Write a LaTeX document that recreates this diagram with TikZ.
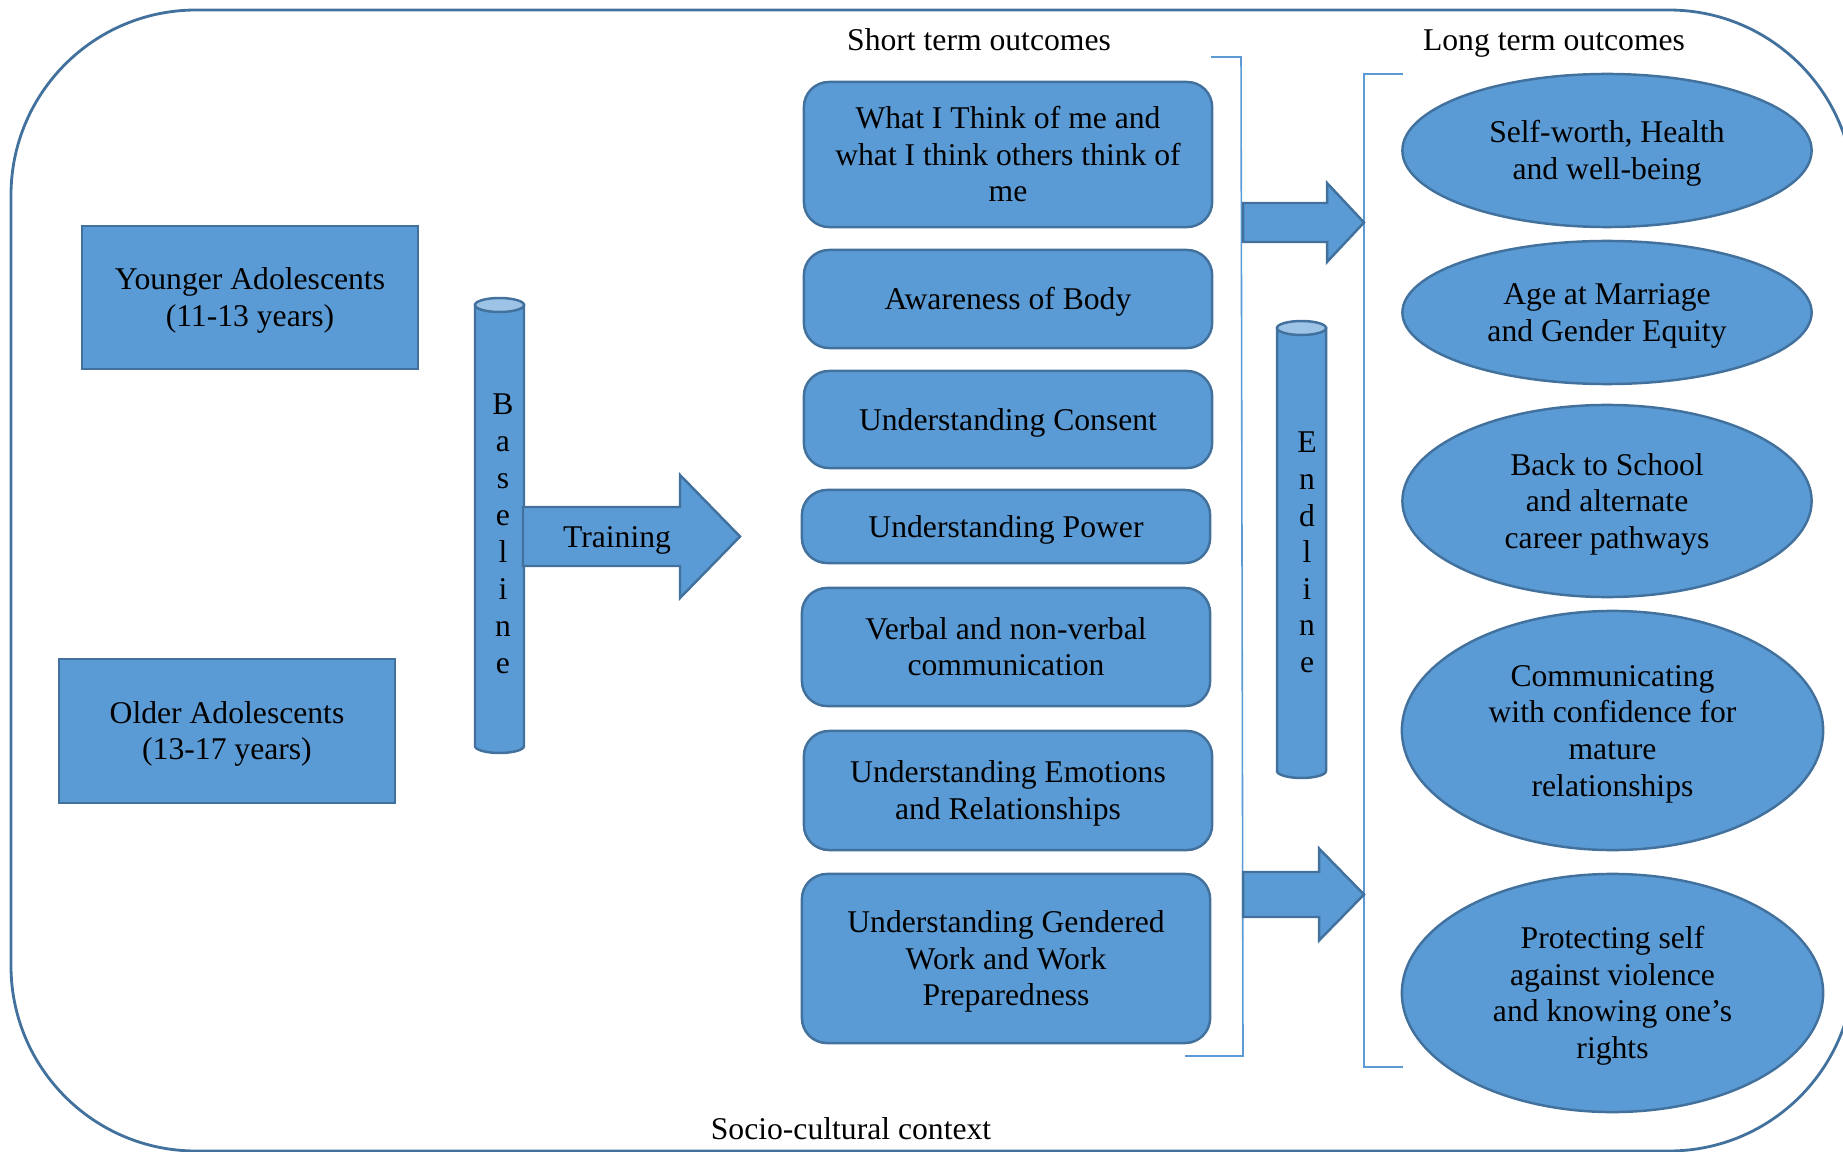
\documentclass[tikz,border=0pt]{standalone}
\usepackage{fontspec}
\setmainfont{Liberation Serif}
\usetikzlibrary{shapes.geometric,calc}
\definecolor{boxblue}{HTML}{5B9BD5}
\definecolor{edgeblue}{HTML}{41719C}
\definecolor{capblue}{HTML}{9DC3E6}

% block arrow: tail x, neck x, tip x, mid y, shaft half, head half
\newcommand{\fatarrow}[6]{%
  \draw[fatarr] (#1,#4-#5) -- (#2,#4-#5) -- (#2,#4-#6) -- (#3,#4)
    -- (#2,#4+#6) -- (#2,#4+#5) -- (#1,#4+#5) -- cycle;}
% upright cylinder: centre x, top y, bottom y, half width
\newcommand{\pillar}[4]{%
  \draw[cyl] (#1-#4,#2) -- (#1-#4,#3) arc[start angle=180, end angle=0, x radius=#4, y radius=7] -- (#1+#4,#2) -- cycle;
  \draw[cyl, fill=capblue] (#1,#2) ellipse[x radius=#4, y radius=7];}

\begin{document}
\begin{tikzpicture}[
  x=0.01cm, y=-0.01cm,
  every node/.style={font=\fontsize{9}{10.4}\selectfont, inner sep=0pt, align=center,
    text height=8.02pt, text depth=1.94pt},
  lines2/.style={text height=18.42pt},
  lines3/.style={text height=28.82pt},
  lines4/.style={text height=39.22pt},
  agebox/.style={draw=edgeblue, fill=boxblue, line width=0.7pt, minimum width=3.36cm, minimum height=1.43cm, lines2},
  stbox/.style={draw=edgeblue, fill=boxblue, line width=0.7pt, rounded corners=0.25cm, minimum width=4.08cm},
  ltoval/.style={ellipse, draw=edgeblue, fill=boxblue, line width=0.7pt, minimum width=4.09cm},
  cyl/.style={draw=edgeblue, fill=boxblue, line width=0.7pt},
  fatarr/.style={draw=edgeblue, fill=boxblue, line width=0.7pt, line join=miter},
  brk/.style={draw=boxblue, line width=0.45pt},
  frame/.style={draw=edgeblue, line width=0.8pt, rounded corners=1.85cm}
]
\useasboundingbox (0,0) rectangle (1843,1152);
\clip (0,0) rectangle (1843,1152);
\draw[frame] (11,10) rectangle (1854,1151);

\node[agebox] (young) at (250,297.5) {Younger Adolescents\\(11-13 years)};
\node[agebox, minimum height=1.44cm] (old) at (227,731) {Older Adolescents\\(13-17 years)};

\pillar{499.5}{305}{746}{24.5}
\node[font=\fontsize{9}{10.5}\selectfont, text height=81.52pt] (base) at (503,533.5) {B\\a\\s\\e\\l\\i\\n\\e};
\fatarrow{523}{680}{740}{536.5}{29.5}{61.5}
\node (train) at (617,537) {Training};

\node (sthead) at (979,40) {Short term outcomes};
\node[stbox, lines3, minimum height=1.45cm] (st1) at (1008,154.5) {What I Think of me and\\what I think others think of\\me};
\node[stbox, minimum height=0.98cm] (st2) at (1008,299) {Awareness of Body};
\node[stbox, minimum height=0.97cm] (st3) at (1008,419.5) {Understanding Consent};
\node[stbox, minimum height=0.73cm] (st4) at (1006,526.5) {Understanding Power};
\node[stbox, lines2, minimum height=1.18cm] (st5) at (1006,647) {Verbal and non-verbal\\communication};
\node[stbox, lines2, minimum height=1.19cm] (st6) at (1008,790.5) {Understanding Emotions\\and Relationships};
\node[stbox, lines3, minimum height=1.69cm] (st7) at (1006,958.5) {Understanding Gendered\\Work and Work\\Preparedness};

\draw[brk] (1211,57) -- (1241,57) -- (1243,1056) -- (1185,1056);
\draw[brk] (1403,74) -- (1364,74) -- (1364,1067) -- (1403,1067);
\fatarrow{1243}{1327}{1364}{222.5}{19.5}{39.5}
\fatarrow{1243}{1319}{1364}{894.5}{22.5}{46}

\pillar{1301.5}{328}{771}{24.5}
\node[text height=70.42pt] (endl) at (1307,552) {E\\n\\d\\l\\i\\n\\e};

\node (lthead) at (1554,40) {Long term outcomes};
\node[ltoval, lines2, minimum height=1.53cm] (lt1) at (1607,150.5) {Self-worth, Health\\and well-being};
\node[ltoval, lines2, minimum height=1.43cm] (lt2) at (1607,312.5) {Age at Marriage\\and Gender Equity};
\node[ltoval, lines3, minimum height=1.92cm] (lt3) at (1607,501) {Back to School\\and alternate\\career pathways};
\node[ltoval, lines4, minimum width=4.21cm, minimum height=2.39cm] (lt4) at (1612.5,730.5) {Communicating\\with confidence for\\mature\\relationships};
\node[ltoval, lines4, minimum width=4.21cm, minimum height=2.38cm] (lt5) at (1612.5,993) {Protecting self\\against violence\\and knowing one’s\\rights};

\node (socio) at (851,1129) {Socio-cultural context};
\end{tikzpicture}
\end{document}
